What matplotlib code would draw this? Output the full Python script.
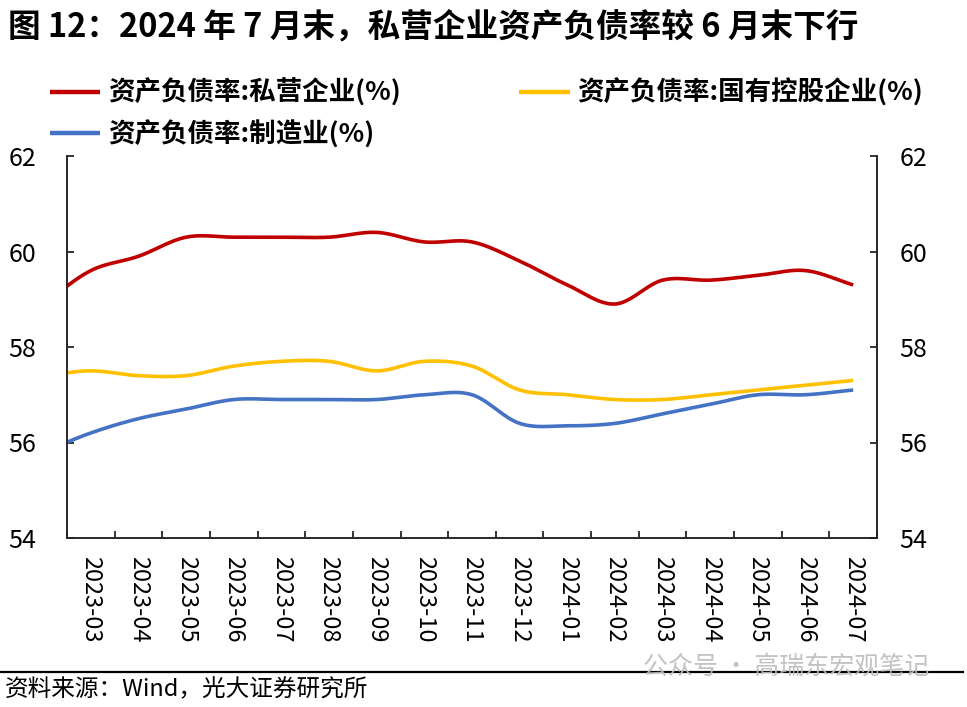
import numpy as np
import matplotlib
matplotlib.use("Agg")
import matplotlib.pyplot as plt
from matplotlib.lines import Line2D

plt.rcParams['font.family'] = ['Noto Sans CJK SC', 'DejaVu Sans']

# ---------------- data ----------------
months = ["2023-03", "2023-04", "2023-05", "2023-06", "2023-07", "2023-08",
          "2023-09", "2023-10", "2023-11", "2023-12", "2024-01", "2024-02",
          "2024-03", "2024-04", "2024-05", "2024-06", "2024-07"]
private = [59.6, 59.9, 60.3, 60.3, 60.3, 60.3, 60.4, 60.2, 60.2, 59.8, 59.3,
           58.9, 59.4, 59.4, 59.5, 59.6, 59.3]
soe = [57.5, 57.4, 57.4, 57.6, 57.7, 57.7, 57.5, 57.7, 57.6, 57.1, 57.0,
       56.9, 56.9, 57.0, 57.1, 57.2, 57.3]
manuf = [56.2, 56.5, 56.7, 56.9, 56.9, 56.9, 56.9, 57.0, 57.0, 56.4, 56.35,
         56.4, 56.6, 56.8, 57.0, 57.0, 57.1]
# 2023-02 values: only the short stub left of the first label is visible
prior_private = 58.9
prior_soe = 57.4
prior_manuf = 55.8

labels = ["资产负债率:私营企业(%)", "资产负债率:国有控股企业(%)", "资产负债率:制造业(%)"]
colors = ["#C00000", "#FFC000", "#4472C4"]
title = "图 12：2024 年 7 月末，私营企业资产负债率较 6 月末下行"
source = "资料来源：Wind，光大证券研究所"


def smooth(xs, ys, n=24):
    """Excel-like smoothed line (cubic Bezier through points)."""
    P = np.column_stack([np.asarray(xs, float), np.asarray(ys, float)])
    P = np.vstack([2 * P[0] - P[1], P, 2 * P[-1] - P[-2]])
    t = np.linspace(0, 1, n, endpoint=False)[:, None]
    out = []
    for i in range(1, len(P) - 2):
        p0, p1, p2, p3 = P[i - 1], P[i], P[i + 1], P[i + 2]
        c1 = p1 + (p2 - p0) / 6
        c2 = p2 - (p3 - p1) / 6
        seg = ((1 - t) ** 3) * p1 + 3 * ((1 - t) ** 2) * t * c1 + \
              3 * (1 - t) * t ** 2 * c2 + t ** 3 * p2
        out.append(seg)
    out.append(P[-2][None, :])
    out = np.vstack(out)
    return out[:, 0], out[:, 1]


W, H = 967, 707
fig = plt.figure(figsize=(W / 100, H / 100), dpi=100)
L, R, T, B = 67, 877, 156, 538
ax = fig.add_axes([L / W, 1 - B / H, (R - L) / W, (B - T) / H])

idx = np.arange(len(months))
xfull = np.concatenate([[-1], idx])
handles = []
for vals, prior, col, lab in [(private, prior_private, colors[0], labels[0]),
                              (soe, prior_soe, colors[1], labels[1]),
                              (manuf, prior_manuf, colors[2], labels[2])]:
    sx, sy = smooth(xfull, np.concatenate([[prior], vals]))
    ln, = ax.plot(sx, sy, color=col, lw=2.6, solid_capstyle='butt', label=lab)
    handles.append(ln)

ax.set_xlim(-0.5, len(months) - 0.5)
ax.set_ylim(54, 62)
ax.set_yticks(np.arange(54, 63, 2))
ax.set_xticks(np.arange(-0.5, len(months), 1.0))
ax.set_xticklabels([])
ax.set_xticks(idx, minor=True)
ax.set_xticklabels(months, minor=True, rotation=-90, fontsize=17, va='top', ha='center')
ax.tick_params(axis='x', which='major', direction='in', length=5, width=1.1, top=False)
ax.tick_params(axis='x', which='minor', length=0, pad=13)
ax.tick_params(axis='y', direction='in', length=5, width=1.1, labelsize=18, pad=22)

ax2 = ax.twinx()
ax2.set_ylim(54, 62)
ax2.set_yticks(np.arange(54, 63, 2))
ax2.tick_params(axis='y', direction='in', length=5, width=1.1, labelsize=18, pad=16)

for a in (ax, ax2):
    a.spines['top'].set_visible(False)
    for s in ('left', 'right', 'bottom'):
        a.spines[s].set_linewidth(1.1)
        a.spines[s].set_color('#222222')

leg = ax.legend(handles=[handles[0], handles[2], handles[1]],
                labels=[labels[0], labels[2], labels[1]],
                ncol=2, loc='upper left', bbox_to_anchor=(50 / W, 1 - 79 / H),
                bbox_transform=fig.transFigure, frameon=False, borderpad=0,
                borderaxespad=0, handlelength=1.9, handletextpad=0.3,
                columnspacing=4.45, labelspacing=0.5,
                prop={'size': 19.1, 'weight': 'bold'})
for h in leg.legend_handles:
    h.set_linewidth(3.2)

fig.text(8 / W, 1 - 27 / H, title, fontsize=23.5, fontweight='bold', ha='left', va='center')
fig.add_artist(Line2D([0, 963 / W], [1 - 672 / H, 1 - 672 / H], color='black', lw=1.6))
fig.text(5 / W, 1 - 690 / H, source, fontsize=17, ha='left', va='center')
fig.text(643 / W, 1 - 667 / H, "公众号 · 高瑞东宏观笔记", fontsize=18, color='#bcbcbc',
         ha='left', va='center', alpha=0.9)

fig.savefig("out.png", dpi=100)
